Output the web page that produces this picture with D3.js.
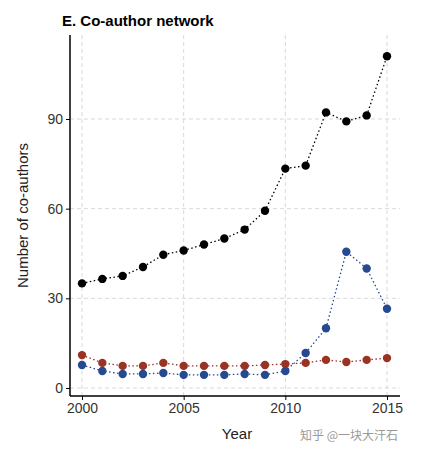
<!DOCTYPE html>
<html><head><meta charset="utf-8">
<script src="https://cdn.jsdelivr.net/npm/d3@7"></script>
<style>body{margin:0;background:#fff;font-family:Arial,"Liberation Sans",sans-serif}</style>
</head><body><svg id="c" width="422" height="456"></svg>
<script>
const years=[2000,2001,2002,2003,2004,2005,2006,2007,2008,2009,2010,2011,2012,2013,2014,2015];
const total=[35,36.5,37.5,40.5,44.6,46,48,50,53,59.3,73.4,74.4,92.2,89.2,91.2,111];
const blue=[7.7,5.7,4.7,4.7,5,4.4,4.4,4.4,4.7,4.4,5.7,11.7,20,45.6,40,26.5];
const red=[11,8.4,7.4,7.4,8.4,7.4,7.4,7.4,7.4,7.7,8,8.4,9.4,8.7,9.4,10];
const xTicks=[2000,2005,2010,2015], yTicks=[0,30,60,90];
const svg=d3.select("#c");
const x=d3.scaleLinear().domain([2000,2015]).range([82,387]);
const y=d3.scaleLinear().domain([0,90]).range([388,119]);
const L=70,R=400,T=35,B=396;
const g=svg.append("g");
g.selectAll(".gx").data(xTicks).join("line").attr("x1",d=>x(d)).attr("x2",d=>x(d)).attr("y1",T).attr("y2",B).attr("stroke","#d9d9d9").attr("stroke-dasharray","4,3");
g.selectAll(".gy").data(yTicks).join("line").attr("y1",d=>y(d)).attr("y2",d=>y(d)).attr("x1",L).attr("x2",R).attr("stroke","#d9d9d9").attr("stroke-dasharray","4,3");
svg.append("g").attr("transform",`translate(0,${B})`).call(d3.axisBottom(x).tickValues(xTicks).tickFormat(d3.format("d")).tickSizeOuter(0).tickSize(4))
 .call(a=>a.select(".domain").attr("d",`M${L},0H${R}`).attr("stroke-width",1.5)).selectAll("text").attr("font-size",14).attr("fill","#333");
svg.append("g").attr("transform",`translate(${L},0)`).call(d3.axisLeft(y).tickValues(yTicks).tickSizeOuter(0).tickSize(4))
 .call(a=>a.select(".domain").attr("d",`M0,${T}V${B}`).attr("stroke-width",1.5)).selectAll("text").attr("font-size",14).attr("fill","#333");
const line=d3.line().x((d,i)=>x(years[i])).y(d=>y(d));
[[total,"#000"],[red,"#9a3324"],[blue,"#254a8f"]].forEach(([s,c])=>{
 svg.append("path").attr("d",line(s)).attr("fill","none").attr("stroke",c).attr("stroke-width",1.3).attr("stroke-dasharray","1.5,2.5");
 svg.selectAll(null).data(s).join("circle").attr("cx",(d,i)=>x(years[i])).attr("cy",d=>y(d)).attr("r",4.2).attr("fill",c);
});
svg.append("text").attr("x",62).attr("y",26).attr("font-weight","bold").attr("font-size",15).text("E. Co-author network");
svg.append("text").attr("x",(L+R)/2+2).attr("y",439).attr("text-anchor","middle").attr("font-size",15).attr("fill","#222").text("Year");
svg.append("text").attr("transform",`translate(28,${(T+B)/2}) rotate(-90)`).attr("text-anchor","middle").attr("font-size",15).attr("fill","#222").text("Number of co-authors");
svg.append("text").attr("x",300).attr("y",440).attr("font-size",12).attr("fill","#999").attr("font-family","Noto Sans CJK SC").text("知乎 @一块大汗石");
</script></body></html>
